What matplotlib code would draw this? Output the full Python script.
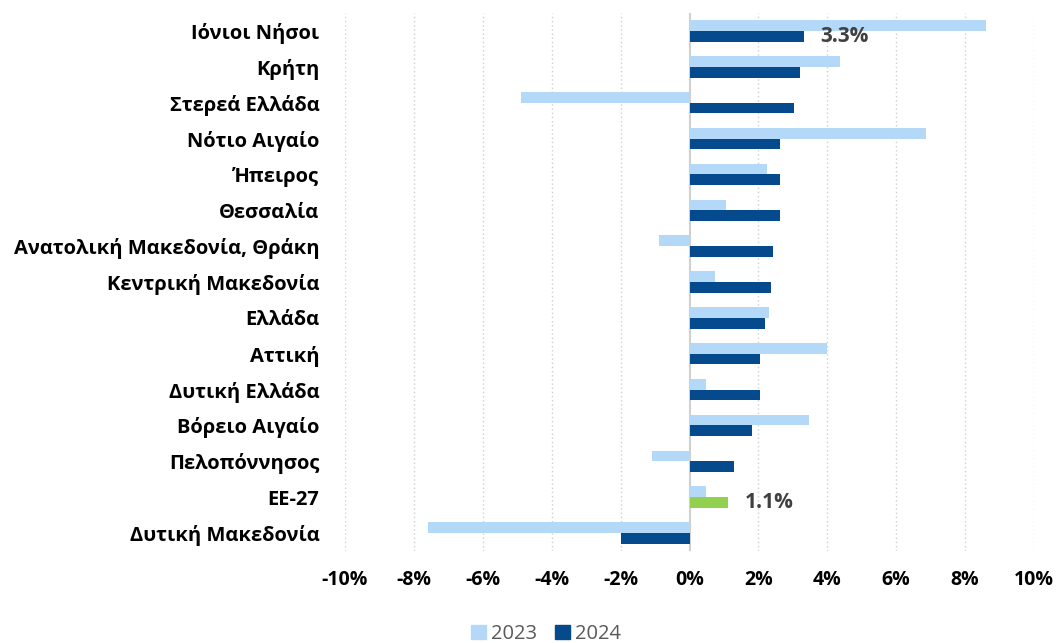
import matplotlib
matplotlib.use("Agg")
import matplotlib.pyplot as plt
import numpy as np
from matplotlib.patches import Patch

categories = ["Ιόνιοι Νήσοι", "Κρήτη", "Στερεά Ελλάδα", "Νότιο Αιγαίο", "Ήπειρος",
              "Θεσσαλία", "Ανατολική Μακεδονία, Θράκη", "Κεντρική Μακεδονία", "Ελλάδα",
              "Αττική", "Δυτική Ελλάδα", "Βόρειο Αιγαίο", "Πελοπόννησος", "ΕΕ-27",
              "Δυτική Μακεδονία"]
v2023 = [8.61, 4.36, -4.88, 6.87, 2.24, 1.07, -0.89, 0.75, 2.30, 3.98, 0.48, 3.48, -1.09, 0.49, -7.60]
v2024 = [3.31, 3.21, 3.03, 2.64, 2.64, 2.62, 2.41, 2.36, 2.19, 2.06, 2.04, 1.80, 1.30, 1.13, -1.98]
xticks = [-10, -8, -6, -4, -2, 0, 2, 4, 6, 8, 10]
labels_shown = {"Ιόνιοι Νήσοι": "3.3%", "ΕΕ-27": "1.1%"}

c23 = "#B4D8F8"
c24 = "#044A8C"
ceu = "#92D050"
font = "Open Sans"

fig = plt.figure(figsize=(10.58, 6.43), dpi=100)
ax = fig.add_axes([345/1058, 1-551/643, (1034-345)/1058, (551-13)/643])

y = np.arange(len(categories))
h = 0.3
ax.barh(y - h/2, v2023, height=h, color=c23, label="2023", zorder=3)
cols24 = [ceu if c == "ΕΕ-27" else c24 for c in categories]
ax.barh(y + h/2, v2024, height=h, color=cols24, label="2024", zorder=3)

for i, c in enumerate(categories):
    if c in labels_shown:
        ax.annotate(labels_shown[c], xy=(v2024[i], y[i] + h/2), xytext=(12, 0),
                    textcoords="offset points", ha="left", va="center",
                    fontsize=15, fontweight="bold", color="#404040", family=font)

ax.set_xlim(-10, 10)
ax.set_ylim(len(categories) - 0.5, -0.5)
ax.set_xticks(xticks)
ax.set_xticklabels([f"{t}%" for t in xticks], fontsize=14, fontweight="bold", family=font)
ax.set_yticks(y)
ax.set_yticklabels(categories, fontsize=14.5, fontweight="bold", family=font)
ax.tick_params(axis="both", length=0)
ax.tick_params(axis="y", pad=18.5)
ax.tick_params(axis="x", pad=14)
for s in ax.spines.values():
    s.set_visible(False)
for t in xticks:
    if t == 0:
        ax.axvline(0, color="#D0D0D0", lw=1.5, zorder=2)
    else:
        ax.axvline(t, color="#D0D0D0", lw=1, ls=(0, (1, 2)), zorder=1)

handles = [Patch(color=c23, label="2023"), Patch(color=c24, label="2024")]
leg = fig.legend(handles=handles, loc="center", bbox_to_anchor=(546/1058, 1-634/643),
                 ncol=2, frameon=False, handlelength=0.75, handleheight=0.75,
                 handletextpad=0.25, columnspacing=0.9,
                 prop={"family": font, "size": 14.5})
for t in leg.get_texts():
    t.set_color("#595959")

fig.savefig("out.png", dpi=100)
